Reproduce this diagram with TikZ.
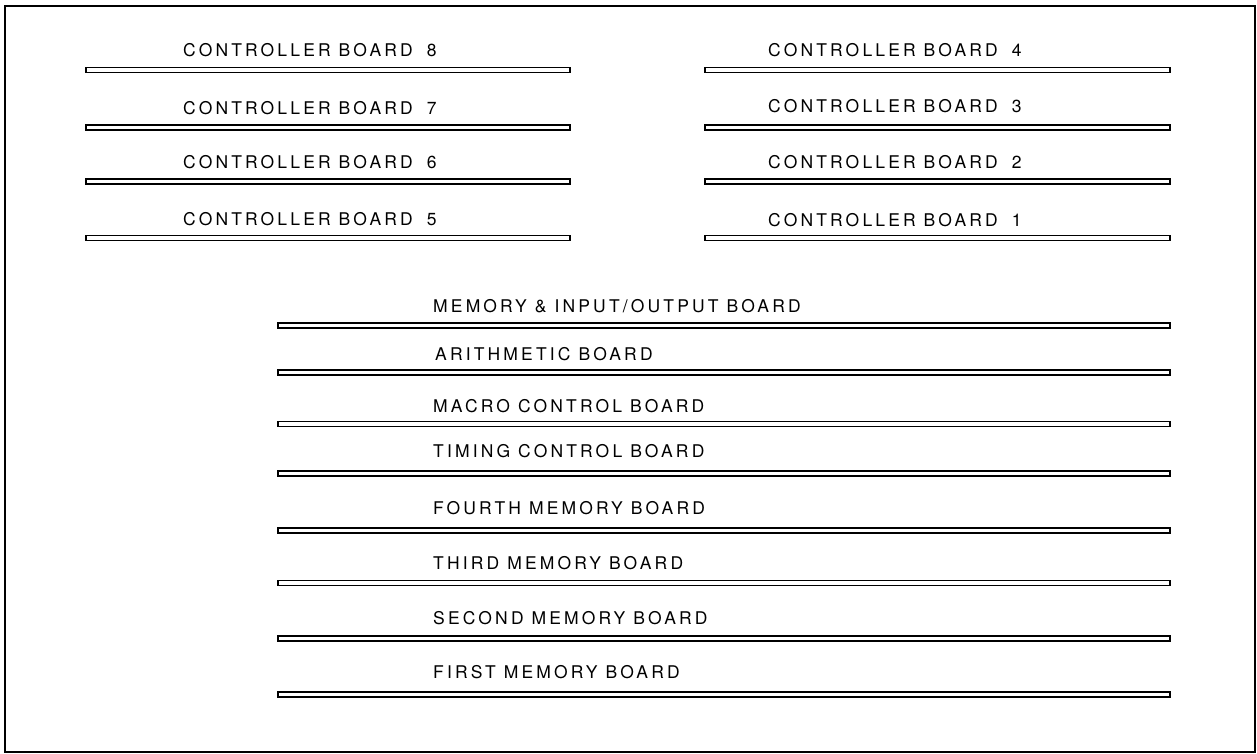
\documentclass[tikz,border=0pt]{standalone}
\usepackage{fontspec}
\newfontfamily\boardfont[LetterSpace=18]{TeX Gyre Heros}
\newcommand{\cbnum}[1]{\hspace{6pt}#1}
\usepackage{tikz}
\usetikzlibrary{positioning}

\begin{document}
\begin{tikzpicture}[x=1pt, y=-1pt,
      board/.style={draw, line width=1.6pt, inner sep=0pt, minimum height=5pt},
      lboard/.style={board, minimum width=484pt},
      rboard/.style={board, minimum width=465pt},
      wboard/.style={board, minimum width=892pt},
      lbl/.style={anchor=base west, inner sep=0pt,
                  font=\boardfont\fontsize{17.5}{20}\selectfont}]
    \useasboundingbox (0,0) rectangle (1257,754);
    \node[draw, line width=2pt, minimum width=1249.5pt, minimum height=746.5pt,
          inner sep=0pt] (frame) at (630.2,379.2) {};
    % controller boards, left column
    \node[lboard] (cb8) at (328,70) {};
    \node[lboard] (cb7) at (328,127.5) {};
    \node[lboard] (cb6) at (328,181.5) {};
    \node[lboard] (cb5) at (328,238) {};
    \node[lbl] (l8) at (183,57) {CONTROLLER BOARD \cbnum{8}};
    \node[lbl] (l7) at (183,115) {CONTROLLER BOARD \cbnum{7}};
    \node[lbl] (l6) at (183,169) {CONTROLLER BOARD \cbnum{6}};
    \node[lbl] (l5) at (183,225) {CONTROLLER BOARD \cbnum{5}};
    % controller boards, right column
    \node[rboard] (cb4) at (937.5,70) {};
    \node[rboard] (cb3) at (937.5,127.5) {};
    \node[rboard] (cb2) at (937.5,181.5) {};
    \node[rboard] (cb1) at (937.5,238) {};
    \node[lbl] (l4) at (768,57) {CONTROLLER BOARD \cbnum{4}};
    \node[lbl] (l3) at (768,113) {CONTROLLER BOARD \cbnum{3}};
    \node[lbl] (l2) at (768,169) {CONTROLLER BOARD \cbnum{2}};
    \node[lbl] (l1) at (768,226) {CONTROLLER BOARD \cbnum{1}};
    % processor and memory boards
    \node[wboard] (mio) at (724,325.5) {};
    \node[wboard] (ari) at (724,372.5) {};
    \node[wboard] (mac) at (724,424) {};
    \node[wboard] (tim) at (724,473.5) {};
    \node[wboard] (m4) at (724,530.5) {};
    \node[wboard] (m3) at (724,583) {};
    \node[wboard] (m2) at (724,638.5) {};
    \node[wboard] (m1) at (724,694.5) {};
    \node[lbl] (lmio) at (433,312.5) {MEMORY \& INPUT/OUTPUT BOARD};
    \node[lbl] (lari) at (435,360) {ARITHMETIC BOARD};
    \node[lbl] (lmac) at (433,412) {MACRO CONTROL BOARD};
    \node[lbl] (ltim) at (433,457) {TIMING CONTROL BOARD};
    \node[lbl] (lm4) at (433,514) {FOURTH MEMORY BOARD};
    \node[lbl] (lm3) at (433,569) {THIRD MEMORY BOARD};
    \node[lbl] (lm2) at (433,624) {SECOND MEMORY BOARD};
    \node[lbl] (lm1) at (433,678) {FIRST MEMORY BOARD};
  \end{tikzpicture}
\end{document}
